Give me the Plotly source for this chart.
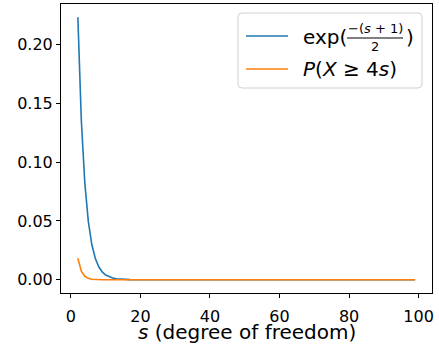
import plotly.graph_objects as go

# degrees of freedom
s_values = list(range(2, 100))

# exp(-(s+1)/2) (values effectively 0 after s ~ 18)
bound_head = [0.2231, 0.1353, 0.0821, 0.0498, 0.0302, 0.0183, 0.0111, 0.0067,
              0.0041, 0.0025, 0.0015, 0.0009, 0.00055, 0.00034, 0.0002, 0.00012, 0.00007]
bound_values = bound_head + [0.0] * (len(s_values) - len(bound_head))

# P(X >= 4s)
prob_head = [0.0183, 0.0074, 0.0030, 0.00125, 0.00052, 0.00022, 0.00009, 0.00004, 0.00002]
prob_values = prob_head + [0.0] * (len(s_values) - len(prob_head))

x_ticks = [0, 20, 40, 60, 80, 100]
y_ticks = [0.00, 0.05, 0.10, 0.15, 0.20]

BLUE = "#1f77b4"
ORANGE = "#ff7f0e"
FONT = "DejaVu Sans"

W, H = 439, 345
L, R, T, B = 61, 7, 4, 52
PW, PH = W - L - R, H - T - B


def px(x):
    return (x - L) / PW


def py(y):
    return (H - B - y) / PH


fig = go.Figure()
fig.add_trace(go.Scatter(x=s_values, y=bound_values, mode="lines",
                         line=dict(color=BLUE, width=1.6), showlegend=False))
fig.add_trace(go.Scatter(x=s_values, y=prob_values, mode="lines",
                         line=dict(color=ORANGE, width=1.6), showlegend=False))

axis_common = dict(showgrid=False, zeroline=False, showline=True, linecolor="black",
                   linewidth=1, mirror=True, ticks="outside", ticklen=4, automargin=False,
                   tickcolor="black", tickfont=dict(family=FONT, size=16, color="black"))

fig.update_layout(
    width=W, height=H,
    margin=dict(l=L, r=R, t=T, b=B, autoexpand=False),
    paper_bgcolor="white", plot_bgcolor="white",
    font=dict(family=FONT, color="black"),
    xaxis=dict(range=[-2.85, 103.85], tickvals=x_ticks, ticklabelstandoff=5, **axis_common),
    yaxis=dict(range=[-0.0112, 0.2343], tickvals=y_ticks, tickformat=".2f", **axis_common),
)

# x-axis label
fig.add_annotation(xref="paper", yref="paper", x=0.5, y=py(332), xanchor="center",
                   yanchor="middle", showarrow=False,
                   text="<i>s</i> (degree of freedom)", font=dict(family=FONT, size=20))

# legend box (rounded)
x0, x1, y0, y1 = px(238), px(422), py(88), py(13)
rx, ry = 4 / PW, 4 / PH
path = (f"M {x0+rx},{y0} L {x1-rx},{y0} Q {x1},{y0} {x1},{y0+ry} "
        f"L {x1},{y1-ry} Q {x1},{y1} {x1-rx},{y1} L {x0+rx},{y1} "
        f"Q {x0},{y1} {x0},{y1-ry} L {x0},{y0+ry} Q {x0},{y0} {x0+rx},{y0} Z")
fig.add_shape(type="path", xref="paper", yref="paper", path=path,
              line=dict(color="#d0d0d0", width=1), fillcolor="rgba(255,255,255,0.8)")
fig.add_shape(type="line", xref="paper", yref="paper", x0=px(246), x1=px(288),
              y0=py(36), y1=py(36), line=dict(color=BLUE, width=1.6))
fig.add_shape(type="line", xref="paper", yref="paper", x0=px(246), x1=px(288),
              y0=py(69), y1=py(69), line=dict(color=ORANGE, width=1.6))

# legend entry 1: exp( -(s+1)/2 )
fig.add_annotation(xref="paper", yref="paper", x=px(301), y=py(37), xanchor="left",
                   yanchor="middle", showarrow=False, text="exp(",
                   font=dict(family=FONT, size=20))
fig.add_annotation(xref="paper", yref="paper", x=px(375), y=py(28), xanchor="center",
                   yanchor="middle", showarrow=False, text="−(<i>s</i> + 1)",
                   font=dict(family=FONT, size=13))
fig.add_shape(type="line", xref="paper", yref="paper", x0=px(347), x1=px(403),
              y0=py(38), y1=py(38), line=dict(color="black", width=1.2))
fig.add_annotation(xref="paper", yref="paper", x=px(375), y=py(47), xanchor="center",
                   yanchor="middle", showarrow=False, text="2",
                   font=dict(family=FONT, size=13))
fig.add_annotation(xref="paper", yref="paper", x=px(404), y=py(37), xanchor="left",
                   yanchor="middle", showarrow=False, text=")",
                   font=dict(family=FONT, size=20))

# legend entry 2
fig.add_annotation(xref="paper", yref="paper", x=px(301), y=py(69), xanchor="left",
                   yanchor="middle", showarrow=False,
                   text="<i>P</i>(<i>X</i> ≥ 4<i>s</i>)",
                   font=dict(family=FONT, size=20))

fig.write_html("out.html", config={"displayModeBar": False},
               post_script="document.body.style.margin='0px';")
